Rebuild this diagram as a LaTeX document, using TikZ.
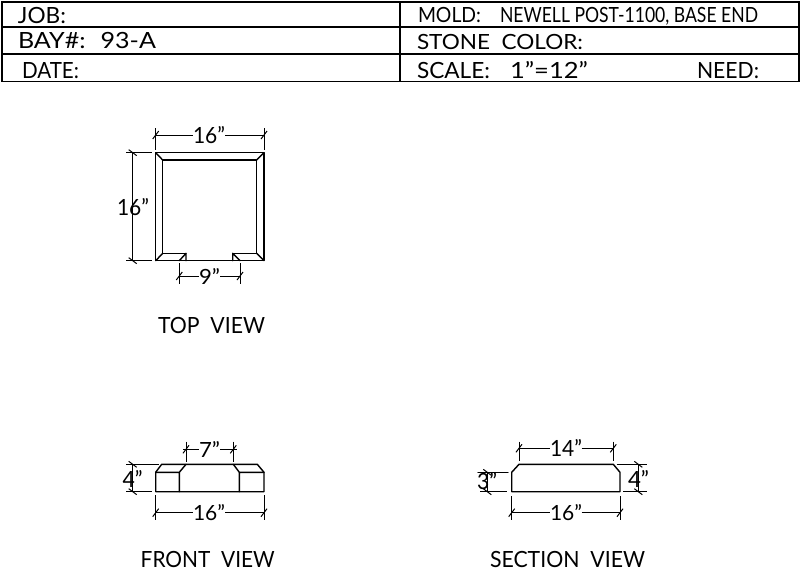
\documentclass[tikz,border=0pt]{standalone}
\usepackage{fontspec}
\usepackage{graphicx}
\setmainfont{Lato}
\newcommand{\cad}[6]{\node[cadtext] (#1) at (#2,#3) {\resizebox{#4pt}{#5pt}{\rule{0pt}{0.7165em}\smash{#6}}};}
\newcommand{\tickh}[2]{\draw[dimline] (#1-3,#2+4) -- (#1+3,#2-4);}
\newcommand{\tickv}[2]{\draw[dimline] (#1-4,#2-3) -- (#1+4,#2+3);}
\tikzset{
  cadtext/.style={anchor=base west,inner sep=0pt,outer sep=0pt,black},
  objline/.style={line width=1.4pt,black,line cap=round,line join=round},
  dimline/.style={line width=1pt,black},
  frameline/.style={line width=1.4pt,black}
}
\begin{document}
\begin{tikzpicture}[x=1pt,y=-1pt]
\useasboundingbox (0,0) rectangle (800,571);
% title block
\draw[frameline] (2,2) rectangle (799,81.5);
\draw[frameline] (2,27) -- (799,27);
\draw[frameline] (2,54) -- (799,54);
\draw[frameline] (400,2) -- (400,81.5);
\cad{job}{18}{23}{48}{16}{JOB:}
\cad{bay}{18}{48}{138}{16}{BAY\#: \ 93-A}
\cad{date}{22}{78}{57}{16}{DATE:}
\cad{mold}{418}{22}{63}{15}{MOLD:}
\cad{newell}{500}{22}{258}{15}{NEWELL POST-1100, BASE END}
\cad{stone}{417}{49}{166}{15}{STONE \ COLOR:}
\cad{scale}{417}{78}{73}{16}{SCALE:}
\cad{ratio}{510}{78}{78}{16}{1"=12"}
\cad{need}{697}{78}{62}{16}{NEED:}
% top view
\draw[objline] (155.7,152.7) rectangle (264,260.7);
\draw[objline] (186,253.3) -- (162.7,253.3) -- (162.7,160) -- (256.7,160) -- (256.7,253.3) -- (232.7,253.3);
\draw[objline] (155.7,152.7) -- (162.7,160) (264,152.7) -- (256.7,160)
  (155.7,260.7) -- (162.7,253.3) (264,260.7) -- (256.7,253.3);
\draw[objline] (186,253.3) -- (186,260.7) (179.3,260.7) -- (186,253.3)
  (232.7,253.3) -- (232.7,260.7) (232.7,253.3) -- (240,260.7);
% top dims
\draw[dimline] (155.7,128) -- (155.7,150) (264,128) -- (264,150);
\draw[dimline] (155.7,135) -- (193,135) (225,135) -- (264,135);
\tickh{155.7}{135} \tickh{264}{135}
\cad{dtop}{193}{143.5}{32}{16}{16"}
\draw[dimline] (126,152.7) -- (151.7,152.7) (126,260.7) -- (151.7,260.7);
\draw[dimline] (132.7,152.7) -- (132.7,260.7);
\tickv{132.7}{152.7} \tickv{132.7}{260.7}
\cad{dleft}{117}{215.5}{32}{16}{16"}
\draw[dimline] (179.3,263) -- (179.3,284) (240,263) -- (240,284);
\draw[dimline] (179.3,276) -- (199,276) (220,276) -- (240,276);
\tickh{179.3}{276} \tickh{240}{276}
\cad{dnine}{199}{284}{21}{15}{9"}
\cad{topview}{158}{333}{107}{16}{TOP \ VIEW}
% front view
\draw[objline] (155.7,472.3) -- (161.7,464.3) -- (257.3,464.3) -- (264,472.3) -- (264,491.7) -- (155.7,491.7) -- cycle;
\draw[objline] (155.7,472.3) -- (179.3,472.3) -- (179.3,491.7)
  (264,472.3) -- (239.3,472.3) -- (239.3,491.7)
  (179.3,472.3) -- (186,464.3) (239.3,472.3) -- (233.3,464.3);
\draw[dimline] (186,441.7) -- (186,462) (233.3,441.7) -- (233.3,462);
\draw[dimline] (183,449.3) -- (199,449.3) (220,449.3) -- (237,449.3);
\tickh{186}{449.3} \tickh{233.3}{449.3}
\cad{dseven}{199}{457}{21}{15}{7"}
\draw[dimline] (155.7,495) -- (155.7,520) (264,495) -- (264,520);
\draw[dimline] (155.7,512.7) -- (193,512.7) (225,512.7) -- (264,512.7);
\tickh{155.7}{512.7} \tickh{264}{512.7}
\cad{dfb}{193}{520.5}{32}{15}{16"}
\draw[dimline] (126,464.3) -- (159,464.3) (126,491.7) -- (151.7,491.7);
\draw[dimline] (132.7,464.3) -- (132.7,491.7);
\tickv{132.7}{464.3} \tickv{132.7}{491.7}
\cad{dfl}{122.7}{487}{20}{16}{4"}
\cad{frontview}{140.7}{567.5}{134}{16}{FRONT \ VIEW}
% section view
\draw[objline] (511.7,472.3) -- (519,464.3) -- (613.3,464.3) -- (620,472.3) -- (620,491.7) -- (511.7,491.7) -- cycle;
\draw[dimline] (519,441.7) -- (519,461) (613.3,441.7) -- (613.3,461);
\draw[dimline] (519,448.3) -- (550,448.3) (581.7,448.3) -- (613.3,448.3);
\tickh{519}{448.3} \tickh{613.3}{448.3}
\cad{dst}{550}{456.5}{32}{16}{14"}
\draw[dimline] (511.7,496) -- (511.7,520) (620,496) -- (620,520);
\draw[dimline] (511.7,512.7) -- (550,512.7) (581.7,512.7) -- (620,512.7);
\tickh{511.7}{512.7} \tickh{620}{512.7}
\cad{dsb}{550}{520.5}{32}{15}{16"}
\draw[dimline] (616.7,464.3) -- (646.7,464.3) (623,491.7) -- (646.7,491.7);
\draw[dimline] (638.3,464.3) -- (638.3,491.7);
\tickv{638.3}{464.3} \tickv{638.3}{491.7}
\cad{dsr}{628}{487}{21}{16}{4"}
\draw[objline] (478,472.3) -- (508,472.3);
\draw[dimline] (480,491.7) -- (506.7,491.7);
\draw[dimline] (487.3,472.3) -- (487.3,491.7);
\tickv{487.3}{472.3} \tickv{487.3}{491.7}
\cad{dsl}{477}{489}{20}{16}{3"}
\cad{sectionview}{490}{567.5}{155}{16}{SECTION \ VIEW}
\end{tikzpicture}
\end{document}
